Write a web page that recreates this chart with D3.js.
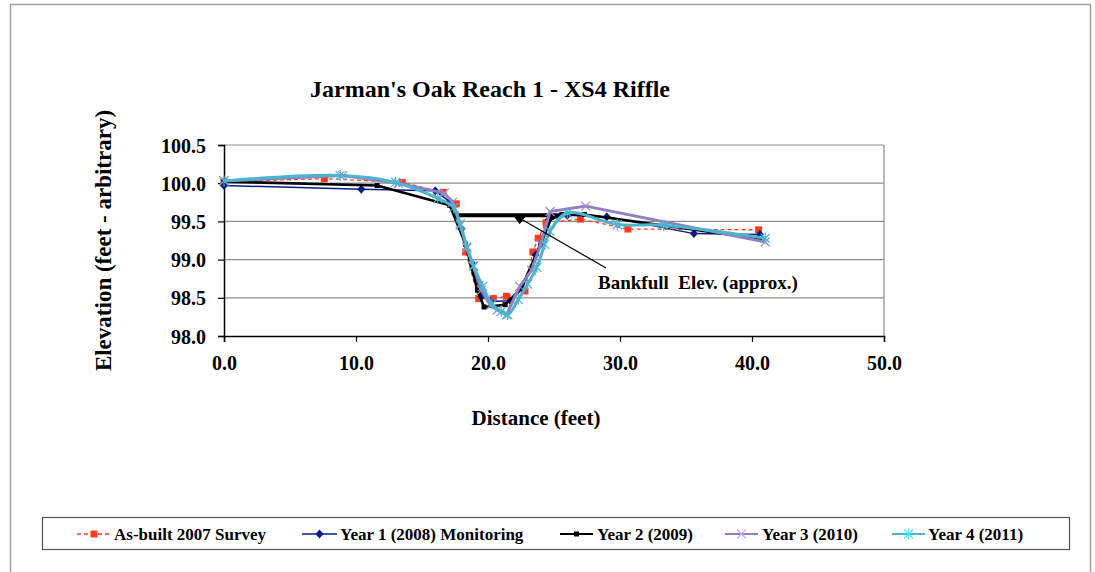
<!DOCTYPE html>
<html>
<head>
<meta charset="utf-8">
<script src="https://cdn.jsdelivr.net/npm/d3@7"></script>
<style>
  html, body { margin: 0; padding: 0; background: #fff; }
  svg text { font-family: "Liberation Serif", "Times New Roman", serif; font-weight: bold; fill: #000; }
</style>
</head>
<body>
<svg id="chart" width="1095" height="572"></svg>
<script>
// Cross-section survey: distance (feet) vs elevation (feet, arbitrary datum)
const xTicks = [0, 10, 20, 30, 40, 50];
const yTicks = [98.0, 98.5, 99.0, 99.5, 100.0, 100.5];

const asBuiltX = [0, 7.6, 13.5, 16.6, 17.6, 18.3, 19.3, 20.4, 21.4, 22.8, 23.4, 23.8, 24.4, 27.0, 30.6, 40.5];
const asBuiltY = [100.02, 100.06, 100.01, 99.88, 99.73, 99.10, 98.49, 98.49, 98.52, 98.59, 99.10, 99.28, 99.48, 99.53, 99.40, 99.39];

const year1X = [0, 10.4, 16.0, 17.1, 18.0, 18.8, 19.5, 20.2, 21.7, 22.6, 23.6, 24.6, 26.0, 29.0, 35.6, 40.6];
const year1Y = [99.97, 99.92, 99.90, 99.76, 99.40, 98.95, 98.52, 98.45, 98.46, 98.62, 99.06, 99.52, 99.58, 99.56, 99.34, 99.33];

const year2X = [0, 11.6, 17.1, 18.3, 19.2, 19.7, 21.3, 22.5, 24.0, 24.8, 25.6, 27.3, 40.7];
const year2Y = [100.02, 99.97, 99.71, 99.20, 98.60, 98.38, 98.41, 98.62, 99.20, 99.55, 99.59, 99.59, 99.27];

const year3X = [0, 9.0, 13.2, 16.7, 17.3, 17.9, 18.4, 18.9, 19.5, 20.2, 20.7, 21.4, 22.4, 23.3, 24.0, 24.7, 27.4, 41.0];
const year3Y = [100.03, 100.10, 100.00, 99.87, 99.75, 99.47, 99.15, 98.91, 98.60, 98.40, 98.34, 98.28, 98.65, 98.86, 99.20, 99.63, 99.70, 99.23];

const year4X = [0, 8.8, 13.0, 16.2, 17.4, 17.9, 18.4, 18.9, 19.6, 20.3, 21.0, 21.5, 22.3, 23.0, 23.7, 24.3, 24.7, 26.0, 29.8, 33.3, 41.0];
const year4Y = [100.03, 100.10, 100.01, 99.80, 99.68, 99.45, 99.17, 98.92, 98.65, 98.42, 98.32, 98.28, 98.48, 98.68, 98.90, 99.20, 99.37, 99.61, 99.46, 99.45, 99.28];

const bankfullX = [17.6, 22.4, 25.7];
const bankfullY = [99.58, 99.58, 99.58];

const seriesNames = ["As-built 2007 Survey", "Year 1 (2008) Monitoring", "Year 2 (2009)", "Year 3 (2010)", "Year 4 (2011)"];

const svg = d3.select("#chart");
const plot = { left: 224, right: 884, top: 145, bottom: 336 };

const x = d3.scaleLinear().domain([0, 50]).range([plot.left, plot.right]);
const y = d3.scaleLinear().domain([98.0, 100.5]).range([plot.bottom, plot.top]);

// outer chart frame
svg.append("rect").attr("x", 10.5).attr("y", 4.5).attr("width", 1080).attr("height", 620)
  .attr("fill", "none").attr("stroke", "#a0a0a0").attr("stroke-width", 1.5);

// horizontal gridlines
svg.append("g").selectAll("line").data(yTicks.filter(t => t > 98)).join("line")
  .attr("x1", plot.left).attr("x2", plot.right)
  .attr("y1", d => y(d)).attr("y2", d => y(d))
  .attr("stroke", "#8c8c8c").attr("stroke-width", 1.2);
// right edge of plot area
svg.append("line").attr("x1", plot.right).attr("x2", plot.right)
  .attr("y1", plot.top).attr("y2", plot.bottom).attr("stroke", "#8c8c8c").attr("stroke-width", 1.2);

// axes
const yAxis = d3.axisLeft(y).tickValues(yTicks).tickSize(6).tickFormat(d3.format(".1f"));
const xAxis = d3.axisBottom(x).tickValues(xTicks).tickSize(6).tickFormat(d3.format(".1f"));

const gy = svg.append("g").attr("transform", `translate(${plot.left},0)`).call(yAxis);
const gx = svg.append("g").attr("transform", `translate(0,${plot.bottom})`).call(xAxis);
[gy, gx].forEach(g => {
  g.select(".domain").attr("stroke", "#000").attr("stroke-width", 1.5);
  g.selectAll(".tick line").attr("stroke", "#000").attr("stroke-width", 1.2);
  g.selectAll(".tick text").attr("font-size", 20).attr("font-family", null).attr("fill", "#000");
});
gy.selectAll(".tick text").attr("x", -18).attr("dy", "0.35em");
gx.selectAll(".tick text").attr("y", 20).attr("dy", "0.71em");

// titles
svg.append("text").attr("x", 490).attr("y", 97).attr("text-anchor", "middle")
  .attr("font-size", 24).text("Jarman's Oak Reach 1 - XS4 Riffle");
svg.append("text").attr("transform", `translate(111,${(plot.top + plot.bottom) / 2}) rotate(-90)`)
  .attr("text-anchor", "middle").attr("font-size", 23).text("Elevation (feet - arbitrary)");
svg.append("text").attr("x", 536).attr("y", 425).attr("text-anchor", "middle")
  .attr("font-size", 21).text("Distance (feet)");

// marker shapes
function marker(g, kind, cx, cy, color) {
  if (kind === "square") {
    g.append("rect").attr("x", cx - 3.5).attr("y", cy - 3.5).attr("width", 7).attr("height", 7).attr("fill", color);
  } else if (kind === "smallsquare") {
    g.append("rect").attr("x", cx - 2.5).attr("y", cy - 2.5).attr("width", 5).attr("height", 5).attr("fill", color);
  } else if (kind === "diamond") {
    g.append("path").attr("d", `M${cx},${cy - 4.5}L${cx + 4},${cy}L${cx},${cy + 4.5}L${cx - 4},${cy}Z`).attr("fill", color);
  } else if (kind === "x") {
    g.append("path").attr("d", `M${cx - 4.5},${cy - 4.5}L${cx + 4.5},${cy + 4.5}M${cx - 4.5},${cy + 4.5}L${cx + 4.5},${cy - 4.5}`)
      .attr("stroke", color).attr("stroke-width", 1.2).attr("fill", "none");
  } else if (kind === "star") {
    g.append("path").attr("d", `M${cx - 4.5},${cy - 4.5}L${cx + 4.5},${cy + 4.5}M${cx - 4.5},${cy + 4.5}L${cx + 4.5},${cy - 4.5}M${cx},${cy - 5.5}L${cx},${cy + 5.5}`)
      .attr("stroke", color).attr("stroke-width", 1.2).attr("fill", "none");
  }
}

const series = [
  { name: seriesNames[0], xs: asBuiltX, ys: asBuiltY, color: "#ff3b1f", width: 1.3, dash: "4,3", mk: "square", mkColor: "#ff3b1f", curve: d3.curveLinear },
  { name: seriesNames[1], xs: year1X, ys: year1Y, color: "#0a1a8a", width: 1.5, dash: null, mk: "diamond", mkColor: "#0a1a8a", curve: d3.curveLinear },
  { name: seriesNames[2], xs: year2X, ys: year2Y, color: "#000000", width: 2.6, dash: null, mk: "smallsquare", mkColor: "#000000", curve: d3.curveLinear },
  { name: seriesNames[3], xs: year3X, ys: year3Y, color: "#8f7fbf", width: 3, dash: null, mk: "x", mkColor: "#9a8ccc", curve: d3.curveLinear },
  { name: seriesNames[4], xs: year4X, ys: year4Y, color: "#4bb4cf", width: 3, dash: null, mk: "star", mkColor: "#4bb4cf", curve: d3.curveCatmullRom.alpha(0.5) }
];

const lineGen = d3.line().x(d => x(d[0])).y(d => y(d[1]));

// bankfull elevation line with a marker and a callout
const bf = svg.append("g");
bf.append("path").datum(d3.zip(bankfullX, bankfullY))
  .attr("d", lineGen.curve(d3.curveLinear))
  .attr("fill", "none").attr("stroke", "#000").attr("stroke-width", 4);

series.forEach(s => {
  const g = svg.append("g");
  const pts = d3.zip(s.xs, s.ys);
  g.append("path").datum(pts).attr("d", lineGen.curve(s.curve))
    .attr("fill", "none").attr("stroke", s.color).attr("stroke-width", s.width)
    .attr("stroke-dasharray", s.dash).attr("stroke-linejoin", "round");
  pts.forEach(p => marker(g, s.mk, x(p[0]), y(p[1]), s.mkColor));
});

// triangle marker at the middle of the bankfull line
const tx = x(bankfullX[1]), ty = y(bankfullY[1]);
svg.append("path").attr("d", `M${tx - 6},${ty + 1}L${tx + 6},${ty + 1}L${tx},${ty + 9}Z`).attr("fill", "#000");
svg.append("line").attr("x1", tx).attr("y1", ty + 3).attr("x2", 606).attr("y2", 268)
  .attr("stroke", "#000").attr("stroke-width", 1.2);
svg.append("text").attr("x", 598).attr("y", 289).attr("font-size", 19)
  .attr("xml:space", "preserve").style("white-space", "pre").text("Bankfull  Elev. (approx.)");

// legend
const lg = svg.append("g");
lg.append("rect").attr("x", 42.5).attr("y", 517.5).attr("width", 1027).attr("height", 32)
  .attr("fill", "#fff").attr("stroke", "#555").attr("stroke-width", 1.2);
const legendPos = [
  { x0: 77, x1: 111, tx: 114 },
  { x0: 302, x1: 337, tx: 340 },
  { x0: 560, x1: 593, tx: 597 },
  { x0: 725, x1: 758, tx: 762 },
  { x0: 892, x1: 925, tx: 928 }
];
series.forEach((s, i) => {
  const p = legendPos[i];
  const cy = 534;
  lg.append("line").attr("x1", p.x0).attr("x2", p.x1).attr("y1", cy).attr("y2", cy)
    .attr("stroke", s.color).attr("stroke-width", Math.min(s.width, 2.2)).attr("stroke-dasharray", s.dash);
  marker(lg, s.mk, (p.x0 + p.x1) / 2, cy, i >= 3 ? d3.color(s.mkColor).brighter(0.6) : s.mkColor);
  lg.append("text").attr("x", p.tx).attr("y", cy + 6).attr("font-size", 17).text(s.name);
});
</script>
</body>
</html>
